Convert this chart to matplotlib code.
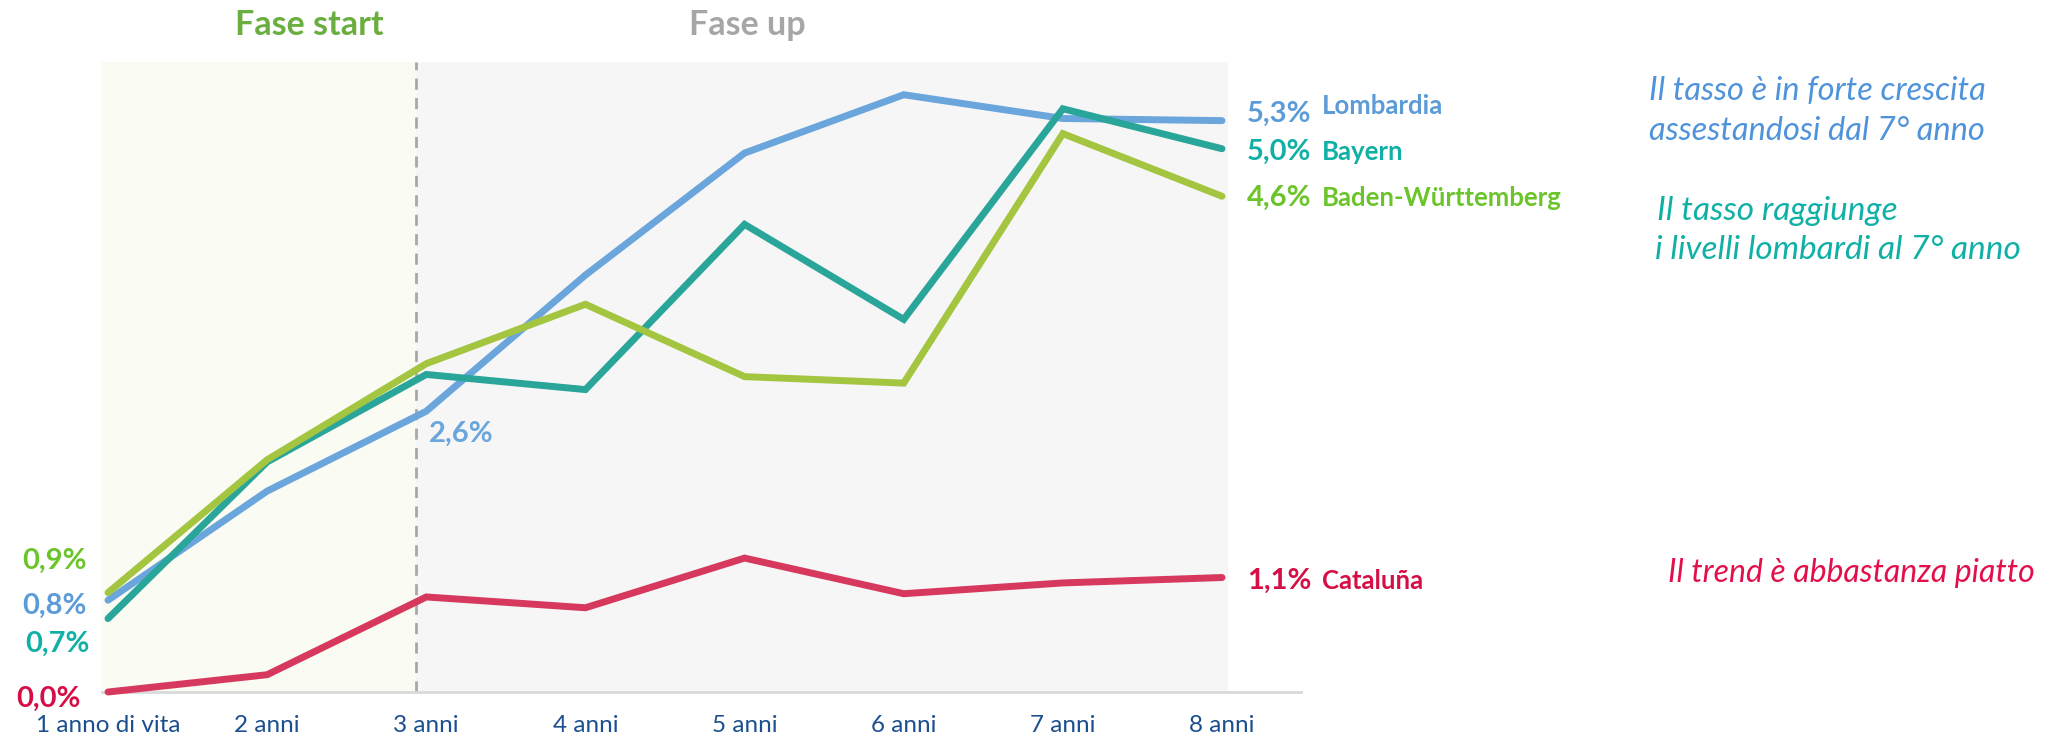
import numpy as np
import matplotlib
matplotlib.use("Agg")
import matplotlib.pyplot as plt

# ---------------- data ----------------
categories = ["1 anno di vita", "2 anni", "3 anni", "4 anni", "5 anni", "6 anni", "7 anni", "8 anni"]
lombardia = [0.85, 1.86, 2.60, 3.86, 4.99, 5.53, 5.31, 5.29]
bayern = [0.68, 2.13, 2.94, 2.80, 4.33, 3.45, 5.40, 5.03]
baden_w = [0.92, 2.15, 3.04, 3.59, 2.92, 2.86, 5.17, 4.59]
cataluna = [0.00, 0.16, 0.88, 0.78, 1.24, 0.91, 1.01, 1.06]

series_names = ["Lombardia", "Bayern", "Baden-Württemberg", "Cataluña"]
start_labels = ["0,8%", "0,7%", "0,9%", "0,0%"]
end_labels = ["5,3%", "5,0%", "4,6%", "1,1%"]
mid_label = "2,6%"
phase_titles = ["Fase start", "Fase up"]
notes = [["Il tasso è in forte crescita", "assestandosi dal 7° anno"],
         ["Il tasso raggiunge", "i livelli lombardi al 7° anno"],
         ["Il trend è abbastanza piatto"]]

# ---------------- style ----------------
line_colors = ["#6AA5DC", "#2AA59A", "#A3C540", "#D7385D"]
text_colors = ["#5B9BD8", "#10B0A6", "#6CC42B", "#D50F45"]
note_colors = ["#4F93DA", "#10B0A6", "#E2104A"]
FONT = "Lato"
plt.rcParams["font.family"] = [FONT, "DejaVu Sans"]

W, H, DPI = 2064, 742, 100
fig = plt.figure(figsize=(W / DPI, H / DPI), dpi=DPI)
ax = fig.add_axes([101 / W, (H - 700) / H, 1202 / W, 638 / H])
ax.set_xlim(-0.044, 7.509)
ax.set_ylim(-0.074, 5.833)
for s in ax.spines.values():
    s.set_visible(False)
ax.set_yticks([])

x = np.arange(len(categories))
split = 1.935
top = 5.833
ax.fill_between([-0.044, split], 0, top, color="#FAFBF3", lw=0, zorder=0)
ax.fill_between([split, 7.038], 0, top, color="#F6F6F6", lw=0, zorder=0)
ax.plot([split, split], [0, top], color="#A8A8A8", lw=2, ls=(0, (4, 3)), zorder=1)
ax.axhline(0, color="#D9D9D9", lw=2, zorder=1)

all_series = [lombardia, bayern, baden_w, cataluna]
for vals, c in zip(all_series, line_colors):
    ax.plot(x, vals, color=c, lw=5, solid_capstyle="round", solid_joinstyle="miter",
            zorder=3, clip_on=False)

ax.set_xticks(x)
ax.set_xticklabels(categories, fontsize=17.5, color="#1B4F8F")
ax.tick_params(axis="x", length=0, pad=10.5)

# start labels (offsets in pixels from first point, baseline)
start_offsets = [(-21, 600 - 614), (-18, 618.7 - 651.7), (-21, 592.3 - 568.3), (-27, 691 - 705.7)]
for vals, lab, tc, (dx, dy) in zip(all_series, start_labels, text_colors, start_offsets):
    ax.annotate(lab, xy=(0, vals[0]), xytext=(dx, dy), textcoords="offset pixels",
                ha="right", va="baseline", fontsize=21, fontweight="bold", color=tc)

# end labels
end_dy = [-1.5, -11, -10, -11]
name_dy = [6.9, -11, -10, -11]
for vals, lab, name, tc, dyp, dyn in zip(all_series, end_labels, series_names, text_colors, end_dy, name_dy):
    ax.annotate(lab, xy=(7, vals[-1]), xytext=(25, dyp), textcoords="offset pixels",
                ha="left", va="baseline", fontsize=21, fontweight="bold", color=tc)
    ax.annotate(name, xy=(7, vals[-1]), xytext=(100, dyn), textcoords="offset pixels",
                ha="left", va="baseline", fontsize=18.5, fontweight="bold", color=tc)

# mid label
ax.annotate(mid_label, xy=(2, lombardia[2]), xytext=(3, -31), textcoords="offset pixels",
            ha="left", va="baseline", fontsize=21, fontweight="bold", color=line_colors[0])

# phase titles
ax.text(1.263, 6.079, phase_titles[0], ha="center", va="baseline", fontsize=24.5,
        fontweight="bold", color="#6AAE3F")
ax.text(4.015, 6.079, phase_titles[1], ha="center", va="baseline", fontsize=24.5,
        fontweight="bold", color="#A6A6A6")

# notes (figure pixel positions of baselines)
note_pos = [[(1649, 100), (1649, 140)], [(1657, 220), (1655, 259)], [(1668, 582)]]
note_sizes = [23.5, 24, 23]
for lines, poss, c, fs in zip(notes, note_pos, note_colors, note_sizes):
    for t, (px, py) in zip(lines, poss):
        fig.text(px / W, 1 - py / H, t, ha="left", va="baseline", fontsize=fs,
                 style="italic", fontweight="normal", color=c)

fig.savefig("out.png", dpi=DPI)
